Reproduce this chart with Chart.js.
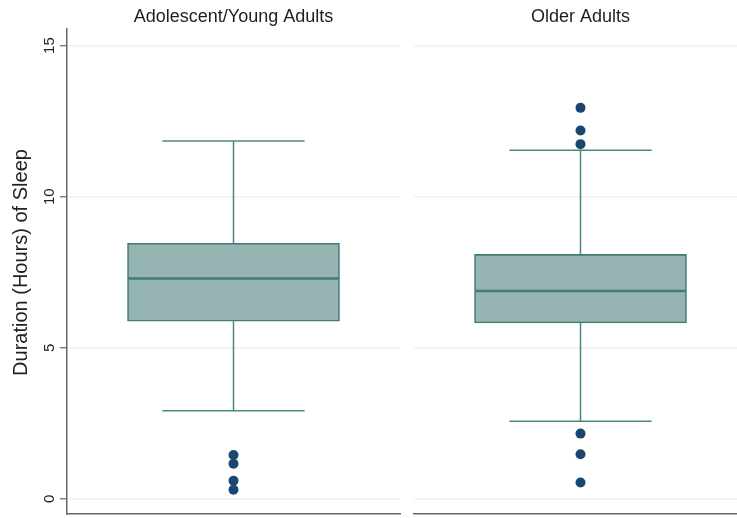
<!DOCTYPE html>
<html>
<head>
<meta charset="utf-8">
<script src="https://cdn.jsdelivr.net/npm/chart.js@4/dist/chart.umd.min.js"></script>
<style>
  html, body { margin: 0; padding: 0; background: #fff; }
  #wrap { position: relative; width: 737px; height: 518px; overflow: hidden; background: #fff; }
  canvas { position: absolute; top: 0; }
  #left { left: 0; }
  #right { left: 409px; }
</style>
</head>
<body>
<div id="wrap">
  <canvas id="left" width="405" height="519"></canvas>
  <canvas id="right" width="343" height="519"></canvas>
</div>
<script>
// Sleep duration (hours) by age group: box-plot summaries
const panels = ['Adolescent/Young Adults', 'Older Adults'];
const lowerWhisker = [2.92, 2.57];
const q1 = [5.88, 5.82];
const median = [7.29, 6.88];
const q3 = [8.46, 8.09];
const upperWhisker = [11.84, 11.54];
const outliers = [
  [1.45, 1.16, 0.60, 0.30],
  [12.94, 12.19, 11.74, 2.16, 1.48, 0.54]
];
const yTicks = [0, 5, 10, 15];
const yTitle = 'Duration (Hours) of Sleep';

const FONT = '"Liberation Sans", Arial, Helvetica, sans-serif';
const BOX_FILL = '#96b5b2';
const BOX_LINE = '#3f7d75';
const WHISKER = '#4a877f';
const DOT = '#1a476f';
const GRID = '#eaf2f2';
const AXIS = '#666666';
const CENTER = 0.5;
const CAP_HALF = 0.2135;

// Rotated tick labels and axis title for the left (y-axis) panel
const yAxisText = {
  id: 'yAxisText',
  afterDraw(chart, args, opts) {
    if (!opts.show) return;
    const y = chart.scales.y;
    const ctx = chart.ctx;
    ctx.save();
    ctx.fillStyle = '#222';
    ctx.textAlign = 'center';
    ctx.textBaseline = 'alphabetic';
    ctx.font = '15px ' + FONT;
    yTicks.forEach(v => {
      ctx.save();
      ctx.translate(53.5, y.getPixelForValue(v));
      ctx.rotate(-Math.PI / 2);
      ctx.fillText(String(v), 0, 0);
      ctx.restore();
    });
    ctx.font = '20px ' + FONT;
    ctx.translate(27, 262.5);
    ctx.rotate(-Math.PI / 2);
    ctx.fillText(yTitle, 0, 0);
    ctx.restore();
  }
};

function makePanel(canvasId, i, withAxis) {
  const lineDs = (pts, color) => ({
    type: 'line', data: pts, borderColor: color, borderWidth: 1.5,
    pointRadius: 0, fill: false, tension: 0, order: 3
  });
  return new Chart(document.getElementById(canvasId), {
    type: 'scatter',
    data: {
      datasets: [
        // box: lower half and upper half share the median edge
        { type: 'bar', data: [{ x: CENTER, y: [q1[i], median[i]] }],
          backgroundColor: BOX_FILL, borderColor: BOX_LINE, borderWidth: 1.6,
          borderSkipped: false, barThickness: 212, grouped: false, order: 2 },
        { type: 'bar', data: [{ x: CENTER, y: [median[i], q3[i]] }],
          backgroundColor: BOX_FILL, borderColor: BOX_LINE, borderWidth: 1.6,
          borderSkipped: false, barThickness: 212, grouped: false, order: 2 },
        // whiskers and caps
        lineDs([{ x: CENTER, y: q3[i] }, { x: CENTER, y: upperWhisker[i] }], WHISKER),
        lineDs([{ x: CENTER, y: q1[i] }, { x: CENTER, y: lowerWhisker[i] }], WHISKER),
        lineDs([{ x: CENTER - CAP_HALF, y: upperWhisker[i] }, { x: CENTER + CAP_HALF, y: upperWhisker[i] }], WHISKER),
        lineDs([{ x: CENTER - CAP_HALF, y: lowerWhisker[i] }, { x: CENTER + CAP_HALF, y: lowerWhisker[i] }], WHISKER),
        // outside values
        { type: 'scatter', data: outliers[i].map(v => ({ x: CENTER, y: v })),
          pointRadius: 5, pointBackgroundColor: DOT, pointBorderWidth: 0, order: 1 }
      ]
    },
    options: {
      responsive: false,
      animation: false,
      devicePixelRatio: 1,
      events: [],
      layout: { padding: 0 },
      plugins: {
        legend: { display: false },
        tooltip: { enabled: false },
        title: {
          display: true, text: panels[i], color: '#1e1e1e', fullSize: false,
          font: { family: FONT, size: 18, weight: 'normal', lineHeight: 1.2 },
          padding: { top: 6, bottom: 1.4 }
        },
        yAxisText: { show: withAxis }
      },
      scales: {
        x: {
          type: 'linear', min: 0, max: 1, offset: false,
          ticks: { display: false },
          grid: { display: false, offset: false },
          border: { display: true, color: AXIS, width: 1.5 },
          afterFit(s) { s.height = 5; }
        },
        y: {
          type: 'linear', min: -0.5, max: 15.55,
          afterBuildTicks(s) { s.ticks = yTicks.map(v => ({ value: v })); },
          ticks: { display: false },
          grid: {
            color: GRID, lineWidth: 1.5,
            drawTicks: withAxis, tickLength: 7, tickColor: AXIS, tickWidth: 1.2
          },
          border: { display: withAxis, color: AXIS, width: 1.5 },
          afterFit(s) { s.width = withAxis ? 67 : 0; }
        }
      }
    },
    plugins: [yAxisText]
  });
}

makePanel('left', 0, true);
makePanel('right', 1, false);
</script>
</body>
</html>
